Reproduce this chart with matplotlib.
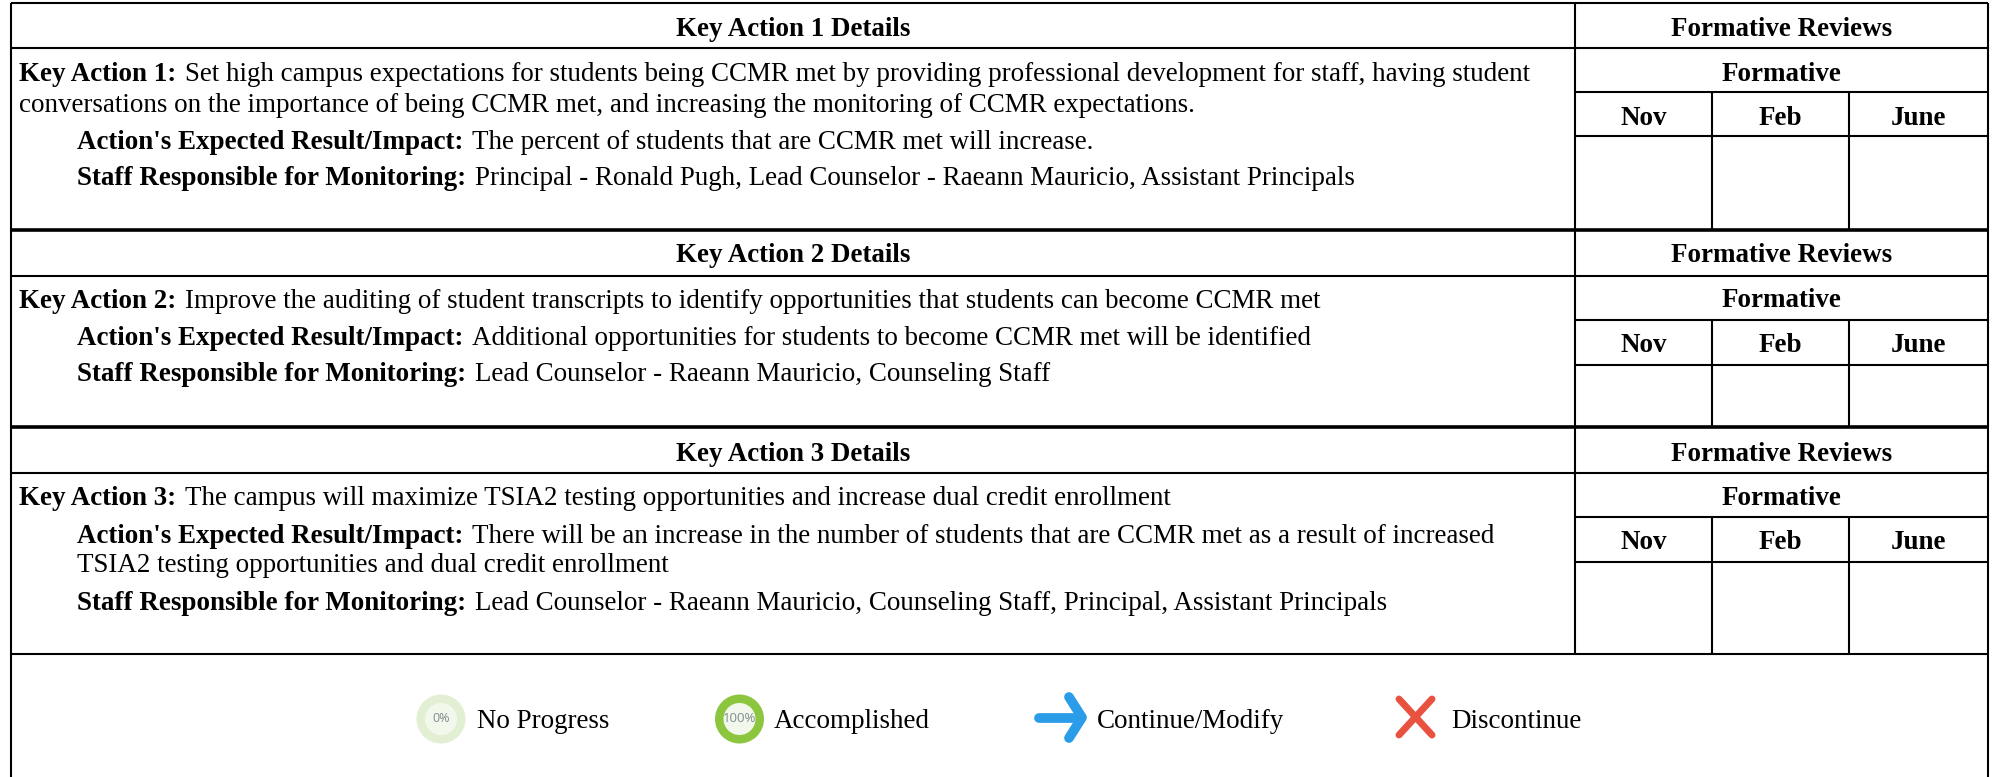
"""
Key action table with formative reviews, drawn in pixel coordinates
"""

import matplotlib
matplotlib.use('Agg')
import matplotlib.pyplot as plt
from matplotlib.patches import Circle

W, H = 1993, 777
FONT = 'Liberation Serif'
SIZE = 19.45

headers = ['Key Action 1 Details', 'Key Action 2 Details', 'Key Action 3 Details']
review_title = 'Formative Reviews'
sub_title = 'Formative'
months = ['Nov', 'Feb', 'June']

# (bold part, regular part, indented?)
section1 = [
	('Key Action 1:', 'Set high campus expectations for students being CCMR met by providing professional development for staff, having student', False),
	('', 'conversations on the importance of being CCMR met, and increasing the monitoring of CCMR expectations.', False),
	("Action's Expected Result/Impact:", 'The percent of students that are CCMR met will increase.', True),
	('Staff Responsible for Monitoring:', 'Principal - Ronald Pugh, Lead Counselor - Raeann Mauricio, Assistant Principals', True),
]
section2 = [
	('Key Action 2:', 'Improve the auditing of student transcripts to identify opportunities that students can become CCMR met', False),
	("Action's Expected Result/Impact:", 'Additional opportunities for students to become CCMR met will be identified', True),
	('Staff Responsible for Monitoring:', 'Lead Counselor - Raeann Mauricio, Counseling Staff', True),
]
section3 = [
	('Key Action 3:', 'The campus will maximize TSIA2 testing opportunities and increase dual credit enrollment', False),
	("Action's Expected Result/Impact:", 'There will be an increase in the number of students that are CCMR met as a result of increased', True),
	('', 'TSIA2 testing opportunities and dual credit enrollment', True),
	('Staff Responsible for Monitoring:', 'Lead Counselor - Raeann Mauricio, Counseling Staff, Principal, Assistant Principals', True),
]
legend_labels = ['No Progress', 'Accomplished', 'Continue/Modify', 'Discontinue']

LEFT, DIV, NOV_FEB, FEB_JUNE, RIGHT = 11, 1575, 1712, 1849, 1988
TOP, BOTTOM = 3, 777

# top, header line, formative line, month line, bottom of each block
blocks = [
	(3, 48, 92, 136, 230),
	(230, 276, 320, 365, 427),
	(427, 473, 517, 562, 654),
]
# baselines: header, formative, months
head_base = [36, 262, 461]
form_base = [81, 307, 505]
month_base = [125, 352, 549]
# baselines of the text lines in each block
baselines = [
	[81, 112, 149, 185],
	[308, 345, 381],
	[505, 543, 572, 610],
]

fig = plt.figure(figsize=(W / 100, H / 100), dpi=100)
ax = fig.add_axes([0, 0, 1, 1])
ax.set_xlim(0, W)
ax.set_ylim(H, 0)
ax.axis('off')


def hline(y, x0=LEFT, x1=RIGHT, lw=1.5):
	ax.plot([x0, x1], [y, y], color='black', lw=lw, solid_capstyle='butt')


def vline(x, y0, y1, lw=1.5):
	ax.plot([x, x], [y0, y1], color='black', lw=lw, solid_capstyle='butt')


def put(x, y, s, bold=False, ha='left', size=SIZE):
	return ax.text(x, y, s, family=FONT, fontsize=size, ha=ha, va='baseline',
		fontweight='bold' if bold else 'normal', color='black')


def mixed(y, bold, regular, indent):
	# regular text starts right after the measured bold part
	x = 77 if indent else 19
	if bold:
		t = put(x, y, bold, bold=True)
		box = t.get_window_extent(fig.canvas.get_renderer())
		x = box.x1 + 9
	put(x, y, regular)


for i, (top, head, form, mon, bot) in enumerate(blocks):
	put((LEFT + DIV) / 2, head_base[i], headers[i], bold=True, ha='center')
	put((DIV + RIGHT) / 2, head_base[i], review_title, bold=True, ha='center')
	put((DIV + RIGHT) / 2, form_base[i], sub_title, bold=True, ha='center')
	cols = [DIV, NOV_FEB, FEB_JUNE, RIGHT]
	for k, m in enumerate(months):
		put((cols[k] + cols[k + 1]) / 2, month_base[i], m, bold=True, ha='center')
	hline(head)
	hline(form, DIV, RIGHT)
	hline(mon, DIV, RIGHT)
	hline(bot, lw=2.6 if i < 2 else 1.5)
	vline(DIV, top, bot)
	vline(NOV_FEB, form, bot)
	vline(FEB_JUNE, form, bot)

for lines, ys in zip([section1, section2, section3], baselines):
	for (b, r, ind), y in zip(lines, ys):
		mixed(y, b, r, ind)

# outer frame, open at the bottom
hline(TOP)
vline(LEFT, TOP, BOTTOM)
vline(RIGHT, TOP, BOTTOM)

# legend icons
ax.add_patch(Circle((441, 719), 24.5, fc='#e2efd3', ec='none'))
ax.add_patch(Circle((441, 719), 16, fc='#f3f8ec', ec='none'))
ax.text(441, 719, '0%', family='Open Sans', fontsize=9, color='#7d8a8c', ha='center', va='center')
ax.add_patch(Circle((739.5, 719), 24.5, fc='#8cc63f', ec='none'))
ax.add_patch(Circle((739.5, 719), 16, fc='#f3f8ec', ec='none'))
ax.text(739.5, 719, '100%', family='Open Sans', fontsize=9.5, color='#7d8a8c', ha='center', va='center')

ax.plot([1039, 1080], [717.5, 717.5], color='#2b9de8', lw=7, solid_capstyle='round')
ax.plot([1069, 1082, 1069], [697, 717.5, 738], color='#2b9de8', lw=7,
	solid_capstyle='round', solid_joinstyle='round')
ax.plot([1399, 1432], [699, 735], color='#ea5240', lw=5, solid_capstyle='round')
ax.plot([1432, 1399], [699, 735], color='#ea5240', lw=5, solid_capstyle='round')

for x, label in zip([477, 774, 1097, 1451], legend_labels):
	put(x, 728, label)

fig.savefig('out.png', dpi=100, facecolor='white')
